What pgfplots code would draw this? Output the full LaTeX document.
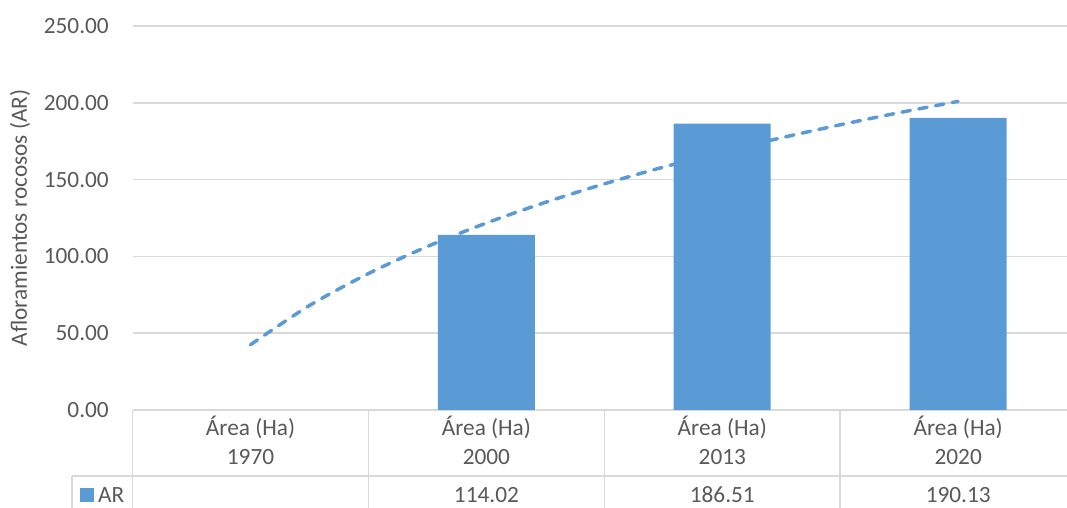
\documentclass[border=0pt]{standalone}
\usepackage{pgfplots}
\pgfplotsset{compat=1.18}
\usepackage{pgfplotstable}
\usepackage{fontspec}
\setmainfont{Carlito}

\definecolor{barblue}{HTML}{5B9BD5}
\definecolor{gridgray}{HTML}{D9D9D9}
\definecolor{txtgray}{HTML}{595959}

% Surface of rock outcrops (AR), hectares; 1970 has no value
\pgfplotstableread{
idx value
1 114.02
2 186.51
3 190.13
}\ardata

% Logarithmic trend line, y = 42.47 + 114.3 ln(n)
\pgfplotstableread{
x y
0.00 42.47
0.25 67.98
0.50 88.81
0.75 106.43
1.00 121.70
1.25 135.16
1.50 147.20
1.75 158.10
2.00 168.04
2.25 177.19
2.50 185.66
2.75 193.55
3.00 200.92
}\trend

\newcommand{\chartfont}{\fontsize{23.3pt}{30pt}\selectfont}

\begin{document}
\begin{tikzpicture}[x=1pt,y=1pt]
\clip (0,0) rectangle (1067,508);
\begin{axis}[
  scale only axis,
  width=943.5pt, height=384pt,
  anchor=south west, at={(132.5pt,98pt)},
  xmin=-0.5, xmax=3.5,
  ymin=0, ymax=250,
  ytick={0,50,...,250},
  xtick=\empty,
  ymajorgrids,
  grid style={gridgray, line width=1.5pt},
  axis line style={draw=none},
  major tick length=0pt,
  yticklabel style={font=\chartfont, text=txtgray, inner sep=0pt, xshift=-23.5pt,
    /pgf/number format/fixed, /pgf/number format/fixed zerofill,
    /pgf/number format/precision=2, /pgf/number format/assume math mode=true},
  ylabel={Afloramientos rocosos (AR)},
  every axis y label/.style={at={(rel axis cs:0,0.5)}, rotate=90, anchor=center,
    yshift=112.5pt, inner sep=0pt, font=\chartfont, text=txtgray},
  clip=false,
]
\addplot[ybar, bar width=97pt, fill=barblue, draw=none] table[x=idx, y=value] {\ardata};
\addplot[barblue, line width=3.5pt, line cap=round, dash pattern=on 8.5pt off 8.5pt, smooth, no marks] table[x=x, y=y] {\trend};
\end{axis}

% data table under the plot
\begin{scope}[gridgray, line width=1.5pt]
  \draw (72,32) -- (1067,32);
  \draw (72,32) -- (72,0);
  \foreach \xx in {132.5,368.4,604.3,840.1} \draw (\xx,98) -- (\xx,0);
\end{scope}

\begin{scope}[font=\chartfont, text=txtgray]
  \foreach \yr [count=\i from 0] in {1970,2000,2013,2020} {
    \node[anchor=base, inner sep=0pt] at (250.5+235.9*\i,72) {Área (Ha)};
    \node[anchor=base, inner sep=0pt] at (250.5+235.9*\i,43) {\yr};
  }
  \node[anchor=base, inner sep=0pt] at (486.4,5) {114.02};
  \node[anchor=base, inner sep=0pt] at (722.3,5) {186.51};
  \node[anchor=base, inner sep=0pt] at (958.2,5) {190.13};
  \fill[barblue] (80,6) rectangle (94,20);
  \node[anchor=base west, inner sep=0pt] at (98,5) {AR};
\end{scope}
\end{tikzpicture}
\end{document}
